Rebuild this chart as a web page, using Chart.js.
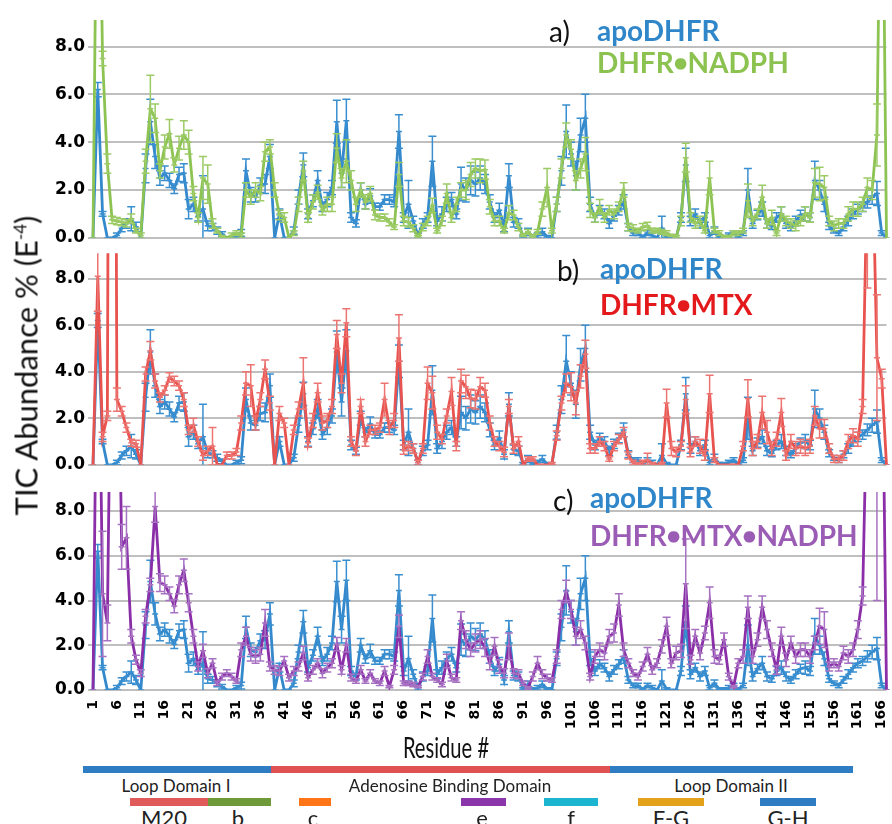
<!DOCTYPE html>
<html>
<head>
<meta charset="utf-8">
<script src="https://cdn.jsdelivr.net/npm/chart.js@4.4.1/dist/chart.umd.min.js"></script>
<style>
  body { margin: 0; background: #fff; width: 892px; height: 824px; overflow: hidden; position: relative; font-family: Lato, sans-serif; }
  canvas { position: absolute; left: 0; }
  .t { position: absolute; white-space: nowrap; line-height: 1; }
  .lg { font-weight: bold; font-size: 28px; }
  .lg span { font-size: 23px; vertical-align: 2px; }
  .pl { font-size: 28px; color: #111; }
  .bar { position: absolute; }
  .dl { position: absolute; font-size: 17px; color: #222; transform: translateX(-50%); white-space: nowrap; line-height: 1; }
  .sl { font-size: 22px; top: 807px; }
</style>
</head>
<body>
<canvas id="chartA" width="892" height="251" style="top:0"></canvas>
<canvas id="chartB" width="892" height="238" style="top:240px"></canvas>
<canvas id="chartC" width="892" height="272" style="top:472px"></canvas>

<div class="t pl" style="left:549px;top:17px">a)</div>
<div class="t lg" style="left:597px;top:16px;color:#2F87CA">apoDHFR</div>
<div class="t lg" style="left:597px;top:48px;color:#8CC250">DHFR<span>●</span>NADPH</div>

<div class="t pl" style="left:557px;top:256px">b)</div>
<div class="t lg" style="left:600px;top:254px;color:#2F87CA">apoDHFR</div>
<div class="t lg" style="left:600px;top:290px;color:#E3191C">DHFR<span>●</span>MTX</div>

<div class="t pl" style="left:553px;top:486px">c)</div>
<div class="t lg" style="left:590px;top:483px;color:#2F87CA">apoDHFR</div>
<div class="t lg" style="left:590px;top:521px;color:#9A5CB4">DHFR<span>●</span>MTX<span>●</span>NADPH</div>

<div class="t" style="left:-174px;top:350px;width:400px;text-align:center;font-size:31px;color:#111;transform:rotate(-90deg)">TIC Abundance % (E<sup style="font-size:17px">-4</sup>)</div>
<div class="t" style="left:346px;top:733px;width:200px;text-align:center;font-size:28px;color:#111;transform:scaleX(0.72)">Residue #</div>

<div class="bar" style="left:83px;top:766px;width:188px;height:7px;background:#2E7CC2"></div>
<div class="bar" style="left:271px;top:766px;width:339px;height:7px;background:#E05252"></div>
<div class="bar" style="left:610px;top:766px;width:243px;height:7px;background:#2E7CC2"></div>
<div class="dl" style="left:176px;top:777px">Loop Domain I</div>
<div class="dl" style="left:450px;top:777px">Adenosine Binding Domain</div>
<div class="dl" style="left:731px;top:777px">Loop Domain II</div>

<div class="bar" style="left:130px;top:798px;width:78px;height:8px;background:#E05A5A"></div>
<div class="bar" style="left:208px;top:798px;width:63px;height:8px;background:#6E9A3A"></div>
<div class="bar" style="left:299px;top:798px;width:32px;height:8px;background:#FF7518"></div>
<div class="bar" style="left:461px;top:798px;width:45px;height:8px;background:#8A35AA"></div>
<div class="bar" style="left:544px;top:798px;width:54px;height:8px;background:#1BB5CF"></div>
<div class="bar" style="left:638px;top:798px;width:66px;height:8px;background:#E3A21A"></div>
<div class="bar" style="left:760px;top:798px;width:56px;height:8px;background:#2E7CC2"></div>
<div class="dl sl" style="left:164px">M20</div>
<div class="dl sl" style="left:238px">b</div>
<div class="dl sl" style="left:313px">c</div>
<div class="dl sl" style="left:482px">e</div>
<div class="dl sl" style="left:571px">f</div>
<div class="dl sl" style="left:671px">F-G</div>
<div class="dl sl" style="left:788px">G-H</div>

<script>
// residue numbers 1..167 (last point has no tick label)
var residues = [];
for (var r = 1; r <= 167; r++) residues.push(String(r));

var apoDHFR = [
  0, 6.2, 1.0, 0, 0, 0.1, 0.4, 0.6, 0.8, 0.45,
  0, 2.9, 4.85, 3.4, 2.5, 2.7, 2.4, 2.05, 2.65, 2.7,
  1.2, 1.4, 0.9, 1.2, 0.5, 0.45, 0.3, 0.15, 0, 0,
  0.1, 0.2, 2.8, 1.8, 1.7, 2.2, 2.25, 3.4, 0, 1.0,
  0, 0, 0.3, 1.7, 3.05, 1.0, 1.55, 2.4, 1.3, 1.6,
  2.1, 4.85, 2.7, 4.9, 0.85, 0.6, 2.0, 1.4, 1.75, 1.3,
  1.3, 1.6, 1.6, 1.5, 4.45, 0.85, 1.4, 0.7, 0.1, 0.6,
  0.85, 3.2, 0.7, 1.0, 1.4, 1.6, 1.0, 2.25, 2.0, 2.4,
  2.25, 2.5, 2.25, 1.5, 0.85, 1.15, 0.45, 2.6, 0.65, 0.6,
  0.05, 0.25, 0.05, 0.1, 0.25, 0.05, 0, 1.4, 2.8, 4.45,
  3.5, 2.6, 4.3, 5.0, 1.4, 0.85, 1.15, 1.0, 0.6, 0.9,
  1.15, 1.5, 0.45, 0.2, 0.2, 0.05, 0.2, 0.1, 0, 0.4,
  0.05, 0, 0, 0.85, 3.05, 0.7, 1.0, 0.6, 0.85, 0.1,
  0.3, 0.05, 0.05, 0.1, 0.2, 0.05, 0.2, 2.0, 0.6, 0.95,
  1.2, 0.6, 0.5, 0.85, 1.0, 0.6, 0.45, 0.7, 0.95, 1.0,
  0.85, 2.4, 2.0, 1.4, 0.5, 0.3, 0.2, 0.45, 0.7, 1.0,
  1.2, 1.3, 1.5, 1.7, 1.85, 0.2, 0
];
var apoErr = [
  0, 0.3, 0.1, 0, 0, 0.1, 0.15, 0.2, 0.5, 0.2,
  0, 0.6, 0.95, 0.5, 0.3, 0.3, 0.3, 0.2, 0.3, 0.4,
  0.4, 0.3, 0.2, 1.4, 0.2, 0.15, 0.15, 0.1, 0, 0,
  0.1, 0.15, 0.5, 0.3, 0.2, 0.3, 0.4, 0.5, 0, 0.2,
  0, 0, 0.15, 0.3, 0.5, 0.2, 0.25, 0.4, 0.2, 0.3,
  0.3, 0.9, 0.6, 0.9, 0.2, 0.15, 0.3, 0.2, 0.3, 0.15,
  0.15, 0.2, 0.2, 0.2, 0.7, 0.2, 1.0, 0.2, 0.1, 0.2,
  0.2, 1.05, 0.2, 0.3, 0.3, 0.3, 0.2, 0.7, 0.5, 0.6,
  0.5, 0.5, 0.4, 0.3, 0.2, 0.3, 0.2, 0.5, 0.2, 0.2,
  0.05, 0.15, 0.05, 0.1, 0.15, 0.05, 0, 0.3, 0.6, 1.1,
  0.5, 0.6, 0.7, 1.0, 0.3, 0.2, 0.2, 0.2, 0.2, 0.2,
  0.2, 0.3, 0.15, 0.1, 0.1, 0.05, 0.1, 0.1, 0, 0.5,
  0.05, 0, 0, 0.2, 0.7, 0.2, 0.2, 0.2, 0.2, 0.1,
  0.15, 0.05, 0.05, 0.1, 0.1, 0.05, 0.1, 0.9, 0.2, 0.2,
  0.3, 0.2, 0.15, 0.2, 0.3, 0.2, 0.15, 0.2, 0.2, 0.3,
  0.2, 0.8, 0.4, 0.3, 0.15, 0.1, 0.1, 0.15, 0.2, 0.2,
  0.2, 0.2, 0.25, 0.3, 0.5, 0.1, 0
];

var dhfrNADPH = [
  0, 20, 7.5, 3.1, 0.75, 0.7, 0.65, 0.6, 0.8, 0.3,
  0.1, 3.2, 5.4, 5.0, 2.8, 3.8, 4.35, 3.05, 3.75, 4.3,
  4.0, 1.85, 0.85, 2.5, 2.25, 0.6, 0.3, 0.05, 0, 0.1,
  0.2, 0.1, 2.0, 1.7, 2.0, 1.85, 3.6, 3.8, 2.0, 0.95,
  0.85, 0, 0.2, 1.4, 2.8, 0.85, 1.5, 1.9, 1.15, 1.4,
  1.4, 3.75, 2.5, 3.2, 2.4, 1.4, 2.0, 1.5, 1.85, 0.95,
  0.85, 0.85, 0.65, 0.45, 2.65, 0.7, 0.65, 0.4, 0.05, 0.45,
  0.7, 1.35, 0.3, 0.7, 1.85, 0.85, 1.4, 2.0, 2.0, 2.65,
  2.9, 2.8, 2.85, 1.3, 0.7, 0.7, 0.3, 1.05, 0.95, 0.45,
  0.1, 0.25, 0.05, 0.25, 1.2, 2.1, 0.3, 1.4, 2.9, 4.3,
  3.7, 2.4, 2.9, 3.5, 1.15, 0.85, 1.3, 0.85, 1.15, 1.0,
  1.3, 2.0, 0.45, 0.4, 0.3, 0.45, 0.5, 0.3, 0.3, 0.25,
  0.2, 0.1, 0.05, 0.7, 3.35, 0.85, 0.6, 0.7, 0.3, 2.5,
  0.3, 0.2, 0.05, 0.05, 0.2, 0.2, 0.3, 1.55, 0.7, 1.0,
  1.7, 0.6, 0.85, 0.2, 1.0, 0.7, 0.6, 0.5, 0.7, 1.0,
  0.85, 2.3, 2.25, 2.1, 0.7, 0.5, 0.6, 0.6, 1.0, 1.2,
  1.2, 1.4, 2.1, 2.0, 4.3, 20, 0
];
var nadphErr = [
  0, 0, 0.3, 0.4, 0.15, 0.15, 0.15, 0.15, 0.2, 0.1,
  0.1, 0.5, 1.4, 0.6, 0.3, 0.5, 0.6, 0.3, 0.5, 0.6,
  0.5, 0.3, 0.2, 0.9, 0.8, 0.2, 0.1, 0.05, 0, 0.1,
  0.1, 0.1, 0.3, 0.3, 0.3, 0.3, 0.4, 0.3, 0.3, 0.2,
  0.2, 0, 0.1, 0.3, 0.4, 0.2, 0.3, 0.3, 0.2, 0.3,
  0.3, 0.6, 0.4, 0.9, 0.4, 0.3, 0.3, 0.3, 0.3, 0.2,
  0.15, 0.15, 0.15, 0.1, 0.5, 0.2, 0.2, 0.15, 0.05, 0.15,
  0.2, 0.3, 0.1, 0.2, 0.4, 0.2, 0.3, 0.3, 0.4, 0.5,
  0.4, 0.5, 0.4, 0.3, 0.2, 0.2, 0.1, 0.3, 0.2, 0.15,
  0.05, 0.1, 0.05, 0.1, 0.3, 0.8, 0.1, 0.3, 0.4, 0.5,
  0.4, 0.4, 0.4, 0.7, 0.3, 0.2, 0.3, 0.2, 0.2, 0.2,
  0.2, 0.3, 0.15, 0.15, 0.1, 0.15, 0.15, 0.1, 0.1, 0.1,
  0.1, 0.05, 0.05, 0.2, 0.6, 0.2, 0.2, 0.2, 0.1, 0.7,
  0.1, 0.1, 0.05, 0.05, 0.1, 0.1, 0.1, 0.7, 0.2, 0.2,
  0.5, 0.2, 0.3, 0.1, 0.3, 0.2, 0.2, 0.2, 0.2, 0.3,
  0.2, 0.6, 0.7, 0.5, 0.2, 0.2, 0.2, 0.2, 0.3, 0.3,
  0.3, 0.3, 0.4, 0.4, 1.3, 0, 0
];

var dhfrMTX = [
  0, 8.1, 1.2, 2.1, 60, 2.8, 2.3, 1.6, 0.95, 0.9,
  0, 3.9, 4.9, 3.6, 2.9, 3.2, 3.75, 3.6, 3.4, 2.8,
  1.5, 1.7, 1.0, 0.4, 0.6, 0.8, 0, 0, 0.4, 0.4,
  0.55, 1.8, 3.5, 3.4, 1.8, 2.8, 4.1, 2.65, 0, 2.2,
  1.8, 0, 1.5, 2.4, 3.5, 0.95, 1.9, 3.1, 1.8, 1.9,
  2.5, 5.6, 3.5, 6.1, 1.0, 0.6, 2.5, 1.0, 1.5, 1.5,
  1.6, 2.8, 1.6, 1.9, 5.45, 0.65, 0.8, 0.7, 0.1, 0.7,
  3.5, 3.1, 1.4, 1.1, 2.1, 3.15, 0.8, 3.6, 3.35, 2.85,
  2.8, 3.35, 3.2, 1.8, 1.0, 0.8, 0.55, 2.5, 0.7, 1.0,
  0, 0.25, 0.25, 0, 0, 0, 0.05, 1.25, 2.65, 3.5,
  3.35, 2.65, 3.8, 4.75, 0.7, 0.7, 1.0, 0.8, 0.25, 0.8,
  1.1, 1.4, 0.4, 0.1, 0.05, 0.1, 0.2, 0.05, 0, 0.05,
  2.65, 0.7, 0.55, 0.8, 2.8, 0.55, 1.0, 0.8, 0.4, 3.05,
  0.2, 0, 0, 0, 0, 0, 0.8, 2.85, 0.7, 1.0,
  2.25, 1.4, 0.7, 1.1, 2.25, 0.4, 1.0, 0.7, 0.8, 0.7,
  0.8, 2.1, 1.55, 1.55, 0.7, 0.25, 0.25, 0.4, 1.0, 1.25,
  1.1, 2.5, 13, 14, 4.6, 3.7, 0
];
var mtxErr = [
  0, 1.5, 0.2, 0.2, 0, 0.5, 0.2, 0.2, 0.15, 0.15,
  0, 0.3, 0.4, 0.3, 0.2, 0.2, 0.2, 0.2, 0.2, 0.3,
  0.2, 0.3, 0.2, 0.2, 0.2, 0.8, 0, 0, 0.15, 0.15,
  0.15, 0.3, 0.5, 0.9, 0.3, 0.3, 0.4, 0.3, 0, 0.3,
  0.2, 0, 0.2, 0.3, 1.1, 0.2, 0.3, 0.4, 0.3, 0.3,
  0.3, 0.6, 0.4, 0.6, 0.2, 0.2, 0.3, 0.2, 0.2, 0.2,
  0.2, 0.7, 0.3, 0.3, 1.0, 0.2, 0.2, 0.2, 0.1, 0.2,
  0.7, 0.7, 0.3, 0.2, 0.3, 0.6, 0.2, 0.5, 0.5, 0.4,
  0.4, 0.4, 0.3, 0.3, 0.2, 0.2, 0.2, 0.3, 0.2, 0.2,
  0, 0.1, 0.1, 0, 0, 0, 0.05, 0.2, 0.3, 0.4,
  0.6, 0.5, 0.5, 0.6, 0.2, 0.2, 0.2, 0.2, 0.1, 0.2,
  0.2, 0.2, 0.15, 0.1, 0.05, 0.1, 0.3, 0.05, 0, 0.05,
  0.6, 0.3, 0.2, 0.2, 0.6, 0.2, 0.2, 0.3, 0.2, 0.8,
  0.1, 0, 0, 0, 0, 0, 0.2, 0.8, 0.3, 0.3,
  0.7, 0.5, 0.3, 0.3, 0.6, 0.2, 0.3, 0.3, 0.3, 0.3,
  0.3, 0.4, 0.4, 0.4, 0.2, 0.15, 0.15, 0.2, 0.3, 0.3,
  0.3, 0.3, 5.4, 0, 2.7, 0.4, 0
];

var dhfrMTXNADPH = [
  0, 20, 4.3, 3.0, 20, 20, 6.4, 6.8, 2.4, 1.35,
  0.75, 3.3, 4.7, 8.2, 4.8, 4.7, 4.3, 3.75, 4.7, 5.35,
  3.9, 2.4, 1.05, 1.75, 0.75, 1.2, 0.3, 0.6, 0.75, 0.6,
  0.4, 1.8, 2.4, 1.6, 1.5, 1.6, 3.0, 1.05, 0.9, 0.85,
  1.3, 0.55, 0.85, 1.05, 1.65, 0.55, 0.9, 1.2, 0.75, 1.0,
  1.2, 2.05, 0.9, 2.0, 0.55, 0.4, 0.9, 0.4, 0.75, 0.4,
  0.3, 0.85, 0.15, 0.9, 2.85, 0.3, 0.3, 0.25, 0.15, 0.6,
  1.5, 0.6, 0.45, 0.25, 1.3, 0.55, 0.45, 3.1, 2.25, 1.8,
  2.1, 2.25, 1.9, 1.2, 1.95, 1.05, 0.75, 1.95, 0.75, 0.7,
  0.3, 0.1, 0.6, 1.2, 0.7, 0.55, 0.45, 1.5, 3.6, 4.4,
  3.6, 2.4, 2.7, 2.1, 0.6, 1.5, 1.8, 1.65, 2.4, 2.55,
  3.8, 1.8, 1.2, 0.75, 0.6, 1.05, 1.6, 0.9, 1.2, 1.95,
  2.85, 1.2, 1.65, 1.75, 4.75, 1.35, 2.4, 1.65, 2.55, 3.9,
  1.5, 1.35, 2.25, 0.6, 0.15, 1.2, 1.5, 3.7, 1.5, 2.25,
  3.7, 2.7, 1.8, 0.9, 2.4, 1.35, 2.1, 1.5, 1.8, 1.8,
  1.5, 2.1, 2.85, 2.7, 1.05, 1.2, 1.05, 1.65, 1.5, 1.8,
  2.7, 4.2, 14, 16, 12, 18, 0
];
var mtxNadphErr = [
  0, 0, 2.8, 0.8, 0, 0, 1.0, 1.4, 0.3, 0.2,
  0.15, 0.3, 0.3, 0.7, 0.4, 0.4, 0.3, 0.3, 0.4, 0.5,
  0.4, 0.3, 0.2, 0.3, 0.2, 0.2, 0.1, 0.15, 0.15, 0.15,
  0.1, 0.3, 0.4, 0.3, 0.3, 0.3, 0.6, 0.2, 0.2, 0.2,
  0.2, 0.15, 0.2, 0.2, 0.3, 0.15, 0.2, 0.2, 0.2, 0.2,
  0.2, 0.3, 0.2, 0.3, 0.15, 0.1, 0.2, 0.1, 0.15, 0.1,
  0.1, 0.2, 0.05, 0.2, 0.5, 0.1, 0.1, 0.1, 0.05, 0.15,
  0.3, 0.15, 0.1, 0.1, 0.3, 0.15, 0.1, 0.4, 0.4, 0.3,
  0.4, 0.4, 0.4, 0.3, 0.4, 0.3, 0.2, 0.6, 0.2, 0.2,
  0.1, 0.05, 0.2, 0.3, 0.2, 0.15, 0.1, 0.3, 0.4, 0.5,
  0.4, 0.4, 0.4, 0.3, 0.15, 0.3, 0.3, 0.3, 0.3, 0.4,
  0.5, 0.3, 0.2, 0.15, 0.15, 0.2, 0.3, 0.2, 0.2, 0.3,
  0.4, 0.2, 0.3, 0.3, 2.0, 0.2, 0.3, 0.3, 0.3, 0.7,
  0.3, 0.2, 0.3, 0.15, 0.05, 0.2, 0.3, 0.5, 0.3, 0.3,
  0.5, 0.4, 0.3, 0.2, 0.4, 0.3, 0.3, 0.3, 0.3, 0.3,
  0.3, 0.3, 0.8, 0.8, 0.2, 0.2, 0.2, 0.3, 0.3, 0.3,
  0.4, 0.4, 0, 0, 8, 0, 0
];

var BLUE = '#3389CC', BLUE_ERR = '#3A8FD0';
var GREEN = '#8DC353', GREEN_ERR = '#9CCB66';
var RED = '#E8534F', RED_ERR = '#EC7471';
var PURPLE = '#8B2FA8', PURPLE_ERR = '#A772C2';

// error bars drawn from each dataset's errors array through the y scale
var errorBars = {
  id: 'errorBars',
  afterDatasetDraw: function(chart, args) {
    var ds = chart.data.datasets[args.index];
    if (!ds.errors) return;
    var y = chart.scales.y, a = chart.chartArea, ctx = chart.ctx;
    ctx.save();
    ctx.beginPath();
    ctx.rect(a.left, a.top, a.right - a.left, a.bottom - a.top);
    ctx.clip();
    ctx.strokeStyle = ds.errorColor;
    ctx.lineWidth = 1.5;
    args.meta.data.forEach(function(pt, i) {
      var e = ds.errors[i];
      if (!e) return;
      var top = y.getPixelForValue(ds.data[i] + e);
      var bot = y.getPixelForValue(ds.data[i] - e);
      ctx.beginPath();
      ctx.moveTo(pt.x, top); ctx.lineTo(pt.x, bot);
      ctx.moveTo(pt.x - 4, top); ctx.lineTo(pt.x + 4, top);
      ctx.moveTo(pt.x - 4, bot); ctx.lineTo(pt.x + 4, bot);
      ctx.stroke();
    });
    ctx.restore();
  }
};

function series(data, errs, color, errColor) {
  return {
    data: data, errors: errs, errorColor: errColor,
    borderColor: color, borderWidth: 2.8, tension: 0, fill: false,
    pointStyle: 'line', pointRadius: 3, pointBorderWidth: 1.5,
    pointBorderColor: errColor, pointBackgroundColor: errColor
  };
}

var yFont = { family: 'DejaVu Sans', weight: 'bold', size: 17 };
var xFont = { family: 'DejaVu Sans', weight: 'bold', size: 14 };

function makePanel(id, other, otherErr, color, errColor, yMax, pad, showX) {
  var xScale = { display: false };
  if (showX) {
    xScale = {
      display: true,
      grid: { display: false, drawTicks: false },
      border: { display: false },
      ticks: {
        autoSkip: false, minRotation: 90, maxRotation: 90, padding: 10,
        color: '#000', font: xFont,
        callback: function(v, i) { return i % 5 === 0 ? residues[i] : ''; }
      },
      afterFit: function(s) { s.height = 54; s.paddingLeft = 0; s.paddingRight = 0; }
    };
  }
  return new Chart(document.getElementById(id), {
    type: 'line',
    data: {
      labels: residues,
      datasets: [
        series(other, otherErr, color, errColor),
        series(apoDHFR, apoErr, BLUE, BLUE_ERR)
      ]
    },
    options: {
      responsive: false,
      animation: false,
      layout: { padding: pad },
      plugins: { legend: { display: false }, tooltip: { enabled: false } },
      scales: {
        x: xScale,
        y: {
          min: 0, max: yMax,
          afterFit: function(s) { s.width = 93; },
          border: { display: false },
          grid: { color: '#BFBFBF', lineWidth: 2, tickLength: 5 },
          ticks: {
            stepSize: 2, includeBounds: false, padding: 3,
            color: '#000', font: yFont,
            callback: function(v) { return v.toFixed(1); }
          }
        }
      }
    },
    plugins: [errorBars]
  });
}

makePanel('chartA', dhfrNADPH, nadphErr, GREEN, GREEN_ERR, 9.11, { left: 0, right: 3, top: 20, bottom: 10 }, false);
makePanel('chartB', dhfrMTX, mtxErr, RED, RED_ERR, 9.09, { left: 0, right: 3, top: 12, bottom: 10 }, false);
makePanel('chartC', dhfrMTXNADPH, mtxNadphErr, PURPLE, PURPLE_ERR, 8.85, { left: 0, right: 3, top: 20, bottom: 0 }, true);
</script>
</body>
</html>
